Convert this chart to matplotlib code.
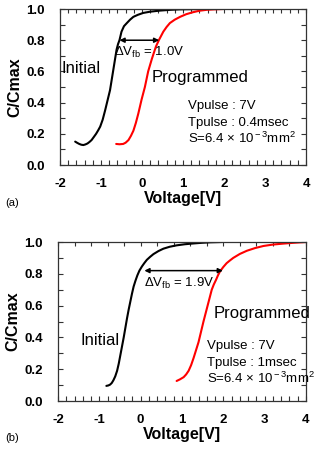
import matplotlib
matplotlib.use("Agg")
import matplotlib.pyplot as plt
from matplotlib.ticker import MultipleLocator

plt.rcParams['font.family'] = ['Liberation Sans', 'DejaVu Sans']
plt.rcParams['mathtext.fontset'] = 'custom'
plt.rcParams['mathtext.rm'] = 'Liberation Sans'
plt.rcParams['mathtext.it'] = 'Liberation Sans:italic'
plt.rcParams['axes.unicode_minus'] = False

# (a) Tpulse 0.4 msec
a_init_v = [-1.63, -1.58, -1.53, -1.48, -1.43, -1.38, -1.33, -1.28, -1.23, -1.18, -1.12, -1.07,
            -1.02, -0.96, -0.90, -0.84, -0.78, -0.74, -0.70, -0.66, -0.62, -0.585, -0.55,
            -0.50, -0.44, -0.37, -0.29, -0.21, -0.10, 0.03, 0.20, 0.44, 0.70, 0.93, 1.5]
a_init_c = [0.15, 0.142, 0.135, 0.13, 0.128, 0.132, 0.138, 0.148, 0.16, 0.178, 0.20, 0.222,
            0.246, 0.29, 0.35, 0.415, 0.48, 0.545, 0.61, 0.675, 0.74, 0.775, 0.80,
            0.855, 0.89, 0.91, 0.932, 0.95, 0.963, 0.975, 0.983, 0.99, 0.995, 0.998, 1.0]
a_prog_v = [-0.63, -0.55, -0.46, -0.40, -0.33, -0.27, -0.21, -0.15, -0.09, -0.05, -0.01, 0.03,
            0.07, 0.11, 0.15, 0.195, 0.24, 0.29, 0.34, 0.42, 0.47, 0.52, 0.60, 0.68, 0.80,
            0.93, 1.08, 1.25, 1.40, 1.58, 1.78, 1.98]
a_prog_c = [0.135, 0.133, 0.135, 0.143, 0.16, 0.187, 0.22, 0.27, 0.33, 0.375, 0.42, 0.46,
            0.50, 0.55, 0.60, 0.64, 0.68, 0.72, 0.76, 0.805, 0.83, 0.855, 0.885, 0.91, 0.932,
            0.95, 0.967, 0.98, 0.989, 0.995, 0.998, 1.0]

# (b) Tpulse 1 msec
b_init_v = [-0.83, -0.78, -0.74, -0.70, -0.66, -0.615, -0.57, -0.53, -0.49, -0.45, -0.41, -0.37,
            -0.33, -0.29, -0.25, -0.21, -0.17, -0.125, -0.08, -0.03, 0.03, 0.09, 0.15, 0.23,
            0.31, 0.43, 0.55, 0.70, 0.87, 1.07, 1.28, 1.48, 1.68, 1.96]
b_init_c = [0.095, 0.098, 0.103, 0.113, 0.13, 0.155, 0.19, 0.235, 0.29, 0.345, 0.40, 0.46,
            0.52, 0.575, 0.625, 0.675, 0.72, 0.757, 0.79, 0.82, 0.846, 0.868, 0.888, 0.907,
            0.924, 0.943, 0.958, 0.97, 0.979, 0.986, 0.991, 0.995, 0.998, 1.0]
b_prog_v = [0.87, 0.95, 1.04, 1.10, 1.16, 1.22, 1.28, 1.34, 1.40, 1.46, 1.52, 1.57, 1.62, 1.67,
            1.72, 1.77, 1.82, 1.87, 1.92, 2.00, 2.08, 2.16, 2.24, 2.40, 2.57, 2.77, 2.97, 3.20,
            3.45, 3.70, 4.0]
b_prog_c = [0.126, 0.136, 0.15, 0.167, 0.19, 0.225, 0.27, 0.32, 0.37, 0.435, 0.50, 0.55, 0.60,
            0.65, 0.70, 0.733, 0.76, 0.79, 0.815, 0.843, 0.867, 0.884, 0.90, 0.925, 0.945,
            0.962, 0.975, 0.984, 0.99, 0.995, 1.0]

a_arrow = (-0.55, 0.42, 0.80)
b_arrow = (0.09, 1.99, 0.82)
a_dv = '1.0V'
b_dv = '1.9V'
a_tp = '0.4msec'
b_tp = '1msec'

fig = plt.figure(figsize=(3.15, 4.49), dpi=100)
ax1 = fig.add_axes([0.1905, 0.6325, 0.781, 0.3474])
ax2 = fig.add_axes([0.1841, 0.1069, 0.7873, 0.3541])


def style(ax, top_step):
    ax.set_xlim(-2, 4)
    ax.set_ylim(0, 1.0)
    ax.xaxis.set_major_locator(MultipleLocator(1))
    ax.xaxis.set_minor_locator(MultipleLocator(0.2))
    ax.yaxis.set_major_locator(MultipleLocator(0.2))
    ax.yaxis.set_minor_locator(MultipleLocator(0.1))
    ax.tick_params(which='both', direction='in', length=3.5, width=0.8, color='#333333',
                   right=True, labelsize=9.5)
    ax.tick_params(axis='x', which='major', pad=9)
    ax.tick_params(axis='y', which='major', pad=11)
    for lab in ax.get_xticklabels() + ax.get_yticklabels():
        lab.set_fontweight('bold')
    ax.yaxis.set_major_formatter(plt.FormatStrFormatter('%.1f'))
    for s in ax.spines.values():
        s.set_color('#333333')
        s.set_linewidth(0.9)
    sec = ax.secondary_xaxis('top')
    sec.xaxis.set_major_locator(MultipleLocator(top_step))
    sec.tick_params(direction='in', length=3, width=0.8, color='#333333', labeltop=False)
    sec.spines['top'].set_visible(False)
    ax.set_xlabel('Voltage[V]', fontsize=11.5, fontweight='bold', labelpad=1)
    ax.set_ylabel('C/Cmax', fontsize=11.5, fontweight='bold', labelpad=3)


style(ax1, 0.2)
style(ax2, 0.4)

for ax, iv, ic, pv, pc, arr in [
        (ax1, a_init_v, a_init_c, a_prog_v, a_prog_c, a_arrow),
        (ax2, b_init_v, b_init_c, b_prog_v, b_prog_c, b_arrow)]:
    ax.plot(iv, ic, color='black', lw=1.5, solid_capstyle='round', solid_joinstyle='round')
    ax.plot(pv, pc, color='#ff0000', lw=1.5, solid_capstyle='round', solid_joinstyle='round')
    ax.annotate('', xy=(arr[1], arr[2]), xytext=(arr[0], arr[2]),
                arrowprops=dict(arrowstyle='<|-|>', color='black', lw=1.1,
                                mutation_scale=7, shrinkA=0, shrinkB=0))

s_text = r'S=6.4 $\times$ 10$^{\rm -3}$mm$^{\rm 2}$'

ax1.text(-0.68, 0.72, r'$\Delta$V$_{\rm fb}$ = ' + a_dv, fontsize=9.5, va='center')
ax1.text(-1.96, 0.62, 'Initial', fontsize=12, va='center')
ax1.text(0.24, 0.56, 'Programmed', fontsize=12, va='center')
ax1.text(1.13, 0.378, 'Vpulse : 7V', fontsize=9.5, va='center')
ax1.text(1.13, 0.271, 'Tpulse : ' + a_tp, fontsize=9.5, va='center')
ax1.text(1.13, 0.171, s_text, fontsize=9.5, va='center')

ax2.text(0.07, 0.74, r'$\Delta$V$_{\rm fb}$ = ' + b_dv, fontsize=9.5, va='center')
ax2.text(-1.46, 0.38, 'Initial', fontsize=12, va='center')
ax2.text(1.76, 0.55, 'Programmed', fontsize=12, va='center', clip_on=False)
ax2.text(1.6, 0.345, 'Vpulse : 7V', fontsize=9.5, va='center')
ax2.text(1.6, 0.236, 'Tpulse : ' + b_tp, fontsize=9.5, va='center')
ax2.text(1.6, 0.14, s_text, fontsize=9.5, va='center')

fig.text(5 / 315, 1 - 203 / 449, '(a)', fontsize=8, va='center')
fig.text(5 / 315, 1 - 438 / 449, '(b)', fontsize=8, va='center')

fig.savefig('out.png', dpi=100)
